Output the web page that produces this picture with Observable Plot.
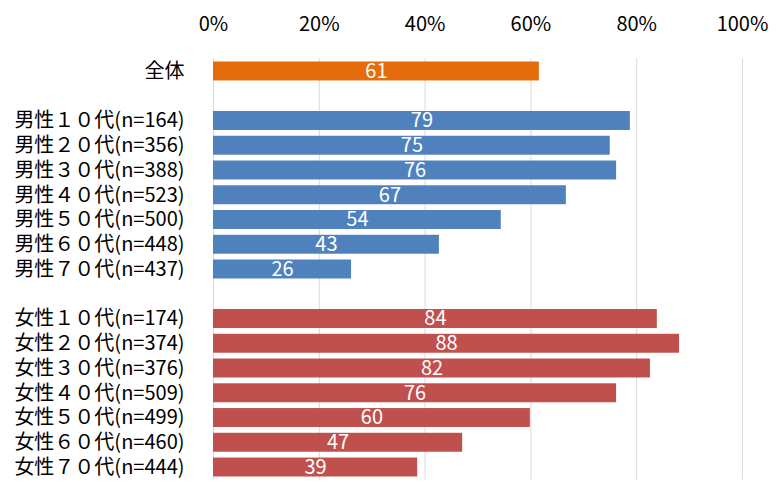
<!DOCTYPE html>
<html>
<head>
<meta charset="utf-8">
<script src="https://cdn.jsdelivr.net/npm/d3@7"></script>
<script src="https://cdn.jsdelivr.net/npm/@observablehq/plot@0.6"></script>
<style>
  html, body { margin: 0; padding: 0; background: #fff; }
  #chart { width: 784px; height: 495px; }
</style>
</head>
<body>
<div id="chart"></div>
<script>
// ---- data ----
const totalCategory = ["全体"];
const totalValues = [61.6];
const totalLabels = ["61"];

const maleCategories = [
  "男性１０代(n=164)", "男性２０代(n=356)", "男性３０代(n=388)", "男性４０代(n=523)",
  "男性５０代(n=500)", "男性６０代(n=448)", "男性７０代(n=437)"
];
const maleValues = [78.8, 75.0, 76.2, 66.7, 54.4, 42.7, 26.1];
const maleLabels = ["79", "75", "76", "67", "54", "43", "26"];

const femaleCategories = [
  "女性１０代(n=174)", "女性２０代(n=374)", "女性３０代(n=376)", "女性４０代(n=509)",
  "女性５０代(n=499)", "女性６０代(n=460)", "女性７０代(n=444)"
];
const femaleValues = [83.9, 88.1, 82.6, 76.2, 59.9, 47.1, 38.6];
const femaleLabels = ["84", "88", "82", "76", "60", "47", "39"];

const xTicks = [0, 20, 40, 60, 80, 100];
const xTickLabels = ["0%", "20%", "40%", "60%", "80%", "100%"];

const colors = { total: "#E46C0A", male: "#4F81BD", female: "#C0504D" };

// ---- build table ----
const rows = [];
totalCategory.forEach((c, i) => rows.push({ cat: c, value: totalValues[i], label: totalLabels[i], group: "total" }));
maleCategories.forEach((c, i) => rows.push({ cat: c, value: maleValues[i], label: maleLabels[i], group: "male" }));
femaleCategories.forEach((c, i) => rows.push({ cat: c, value: femaleValues[i], label: femaleLabels[i], group: "female" }));

const yDomain = [...totalCategory, "__gap1", ...maleCategories, "__gap2", ...femaleCategories];
const yTicks = [...totalCategory, ...maleCategories, ...femaleCategories];

const font = "'Noto Sans CJK JP', 'Noto Sans', sans-serif";

const chart = Plot.plot({
  width: 784,
  height: 495,
  marginLeft: 213,
  marginRight: 42,
  marginTop: 58.6,
  marginBottom: 15.6,
  style: { fontFamily: font, fontSize: "20px", background: "#fff", color: "#000" },
  x: { domain: [0, 100], label: null },
  y: { domain: yDomain, padding: 0, round: false, label: null },
  marks: [
    Plot.ruleX(xTicks, { stroke: "#d9d9d9", strokeWidth: 1 }),
    Plot.barX(rows, {
      x: "value", y: "cat",
      fill: d => colors[d.group],
      insetTop: 2.9, insetBottom: 2.9
    }),
    Plot.text(rows, {
      x: d => d.value / 2, y: "cat", text: "label",
      fill: "#fff", fontSize: 20, fontFamily: font
    }),
    Plot.axisX(xTicks, {
      anchor: "top", tickSize: 0, tickPadding: 28, label: null,
      tickFormat: (d) => xTickLabels[xTicks.indexOf(d)],
      fontSize: 20, fill: "#000", fontFamily: font
    }),
    Plot.axisY(yTicks, {
      anchor: "left", tickSize: 0, tickPadding: 29, label: null,
      fontSize: 20, fill: "#000", fontFamily: font
    })
  ]
});
document.getElementById("chart").appendChild(chart);
</script>
</body>
</html>
